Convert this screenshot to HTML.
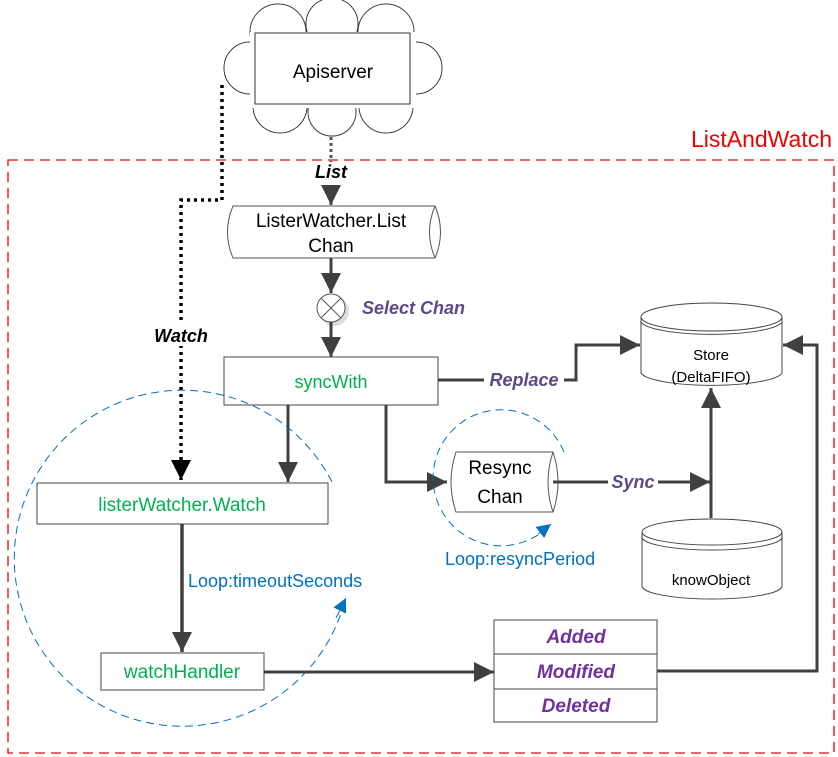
<!DOCTYPE html>
<html><head><meta charset="utf-8"><style>
html,body{margin:0;padding:0;background:#fff;}
svg{display:block;font-family:"Liberation Sans","DejaVu Sans",sans-serif;}
</style></head><body>
<svg width="838" height="757" viewBox="0 0 838 757" xmlns="http://www.w3.org/2000/svg">
<defs>
<marker id="ah" viewBox="0 0 10 10" refX="10" refY="5" markerWidth="20" markerHeight="20" markerUnits="userSpaceOnUse" orient="auto"><path d="M0,0 L10,5 L0,10 Z" fill="#404040"/></marker>
<marker id="ahk" viewBox="0 0 10 10" refX="10" refY="5" markerWidth="20" markerHeight="20" markerUnits="userSpaceOnUse" orient="auto"><path d="M0,0 L10,5 L0,10 Z" fill="#000"/></marker>
<marker id="ahb" viewBox="0 0 10 10" refX="10" refY="5" markerWidth="14" markerHeight="14" markerUnits="userSpaceOnUse" orient="auto"><path d="M0,0 L10,5 L0,10 Z" fill="#0070c0"/></marker>
</defs>

<!-- red container -->
<rect x="8" y="160" width="826" height="593" fill="none" stroke="#e00" stroke-width="1.3" stroke-dasharray="10,6"/>
<text x="832" y="147" text-anchor="end" font-size="23" fill="#e00">ListAndWatch</text>

<!-- cloud: stroke pass -->
<g fill="none" stroke="#333" stroke-width="1">
<circle cx="250" cy="68" r="26"/><circle cx="416" cy="68" r="26"/>
<circle cx="278" cy="32" r="28"/><circle cx="332" cy="24" r="26"/><circle cx="386" cy="32" r="28"/>
<circle cx="280" cy="106" r="27"/><circle cx="332" cy="112" r="24"/><circle cx="386" cy="106" r="27"/>
</g>
<!-- cloud: fill pass -->
<g fill="#fff" stroke="none">
<circle cx="250" cy="68" r="25.5"/><circle cx="416" cy="68" r="25.5"/>
<circle cx="278" cy="32" r="27.5"/><circle cx="332" cy="24" r="25.5"/><circle cx="386" cy="32" r="27.5"/>
<circle cx="280" cy="106" r="26.5"/><circle cx="332" cy="112" r="23.5"/><circle cx="386" cy="106" r="26.5"/>
<rect x="250" y="32" width="166" height="76"/>
</g>
<rect x="255" y="33" width="155" height="71" fill="#fff" stroke="#333" stroke-width="1"/>
<text x="333" y="78" text-anchor="middle" font-size="19" fill="#000">Apiserver</text>

<!-- List -->
<line x1="331" y1="137" x2="331" y2="162" stroke="#555" stroke-width="3" stroke-dasharray="3,3"/>
<text x="331" y="178" text-anchor="middle" font-size="18" font-weight="bold" font-style="italic">List</text>
<line x1="331" y1="185" x2="331" y2="205" stroke="#404040" stroke-width="3" marker-end="url(#ah)"/>

<!-- ListerWatcher.List Chan -->
<path d="M233,206 L435,206 Q446,232 435,258 L233,258 Q222,232 233,206 Z" fill="#fff" stroke="#555"/>
<path d="M435,206 Q424,232 435,258" fill="none" stroke="#555"/>
<text x="331" y="227" text-anchor="middle" font-size="19">ListerWatcher.List</text>
<text x="331" y="252" text-anchor="middle" font-size="19">Chan</text>

<line x1="331" y1="258" x2="331" y2="293" stroke="#404040" stroke-width="3" marker-end="url(#ah)"/>
<circle cx="334" cy="311" r="15" fill="#ddd"/>
<circle cx="331" cy="308" r="14" fill="#fff" stroke="#555"/>
<line x1="321" y1="298" x2="341" y2="318" stroke="#555"/><line x1="341" y1="298" x2="321" y2="318" stroke="#555"/>
<text x="362" y="314" font-size="18" font-weight="bold" font-style="italic" fill="#5b4a8a">Select Chan</text>
<line x1="331" y1="322" x2="331" y2="357" stroke="#404040" stroke-width="3" marker-end="url(#ah)"/>

<!-- syncWith -->
<rect x="224" y="357" width="214" height="48" fill="#fff" stroke="#444"/>
<text x="331" y="388" text-anchor="middle" font-size="18" fill="#00b050">syncWith</text>

<!-- Watch dotted -->
<polyline points="222,85 222,200 181,200 181,480" fill="none" stroke="#000" stroke-width="3.5" stroke-dasharray="3,4" marker-end="url(#ahk)"/>
<rect x="145" y="324" width="72" height="22" fill="#fff"/>
<text x="181" y="342" text-anchor="middle" font-size="18" font-weight="bold" font-style="italic">Watch</text>

<line x1="288" y1="405" x2="288" y2="482" stroke="#404040" stroke-width="3" marker-end="url(#ah)"/>

<!-- listerWatcher.Watch -->
<rect x="37" y="483" width="291" height="41" fill="#fff" stroke="#444"/>
<text x="182" y="511" text-anchor="middle" font-size="19" fill="#00b050">listerWatcher.Watch</text>

<line x1="182" y1="524" x2="182" y2="652" stroke="#404040" stroke-width="3.5" marker-end="url(#ah)"/>

<!-- watchHandler -->
<rect x="101" y="653" width="163" height="37" fill="#fff" stroke="#444"/>
<text x="182" y="678" text-anchor="middle" font-size="19" fill="#00b050">watchHandler</text>

<!-- big blue loop -->
<path d="M332,482 A168 168 0 1 0 345,600" fill="none" stroke="#0070c0" stroke-width="1" stroke-dasharray="8,5"/>
<line x1="336" y1="618" x2="346" y2="598" stroke="#0070c0" marker-end="url(#ahb)"/>
<text x="188" y="587" font-size="18" fill="#0070c0">Loop:timeoutSeconds</text>

<line x1="264" y1="672" x2="494" y2="672" stroke="#404040" stroke-width="3" marker-end="url(#ah)"/>

<!-- Added/Modified/Deleted -->
<rect x="494" y="620" width="163" height="102" fill="#fff" stroke="#444"/>
<line x1="494" y1="654" x2="657" y2="654" stroke="#444"/>
<line x1="494" y1="689" x2="657" y2="689" stroke="#444"/>
<g font-size="19" font-weight="bold" font-style="italic" fill="#7030a0" text-anchor="middle">
<text x="576" y="643">Added</text><text x="576" y="678">Modified</text><text x="576" y="712">Deleted</text>
</g>
<polyline points="657,671 817,671 817,345 783,345" fill="none" stroke="#404040" stroke-width="3" marker-end="url(#ah)"/>

<!-- Replace -->
<polyline points="438,380 576,380 576,345 640,345" fill="none" stroke="#404040" stroke-width="3" marker-end="url(#ah)"/>
<rect x="484" y="368" width="80" height="24" fill="#fff"/>
<text x="524" y="386" text-anchor="middle" font-size="18" font-weight="bold" font-style="italic" fill="#5b4a8a">Replace</text>

<!-- Store -->
<path d="M641,317 L641,373 A71 14 0 0 0 782,373 L782,317" fill="#fff" stroke="#444"/>
<ellipse cx="711.5" cy="317" rx="70.5" ry="14" fill="#fff" stroke="#444"/>
<path d="M641,322 A71 14 0 0 0 782,322" fill="none" stroke="#444"/>
<text x="711" y="360" text-anchor="middle" font-size="15">Store</text>
<text x="711" y="382" text-anchor="middle" font-size="15">(DeltaFIFO)</text>

<!-- syncWith -> Resync -->
<polyline points="386,405 386,482 447,482" fill="none" stroke="#404040" stroke-width="3" marker-end="url(#ah)"/>

<!-- Resync Chan -->
<path d="M456,452 L553,452 Q563,482 553,512 L456,512 Q446,482 456,452 Z" fill="#fff" stroke="#555"/>
<path d="M553,452 Q543,482 553,512" fill="none" stroke="#555"/>
<text x="500" y="474" text-anchor="middle" font-size="19">Resync</text>
<text x="500" y="503" text-anchor="middle" font-size="19">Chan</text>

<!-- small blue loop -->
<path d="M564,452 A68 68 0 1 0 548,527" fill="none" stroke="#0070c0" stroke-width="1" stroke-dasharray="8,5"/>
<line x1="538" y1="534" x2="551" y2="524" stroke="#0070c0" marker-end="url(#ahb)"/>
<text x="445" y="565" font-size="18" fill="#0070c0">Loop:resyncPeriod</text>

<!-- Sync -->
<line x1="553" y1="482" x2="710" y2="482" stroke="#404040" stroke-width="3" marker-end="url(#ah)"/>
<rect x="608" y="470" width="50" height="24" fill="#fff"/>
<text x="633" y="488" text-anchor="middle" font-size="18" font-weight="bold" font-style="italic" fill="#5b4a8a">Sync</text>
<line x1="711" y1="518" x2="711" y2="388" stroke="#404040" stroke-width="3" marker-end="url(#ah)"/>

<!-- knowObject -->
<path d="M642,532 L642,586 A70 13 0 0 0 782,586 L782,532" fill="#fff" stroke="#444"/>
<ellipse cx="712" cy="532" rx="70" ry="13" fill="#fff" stroke="#444"/>
<path d="M642,537 A70 13 0 0 0 782,537" fill="none" stroke="#444"/>
<text x="711" y="585" text-anchor="middle" font-size="15">knowObject</text>
</svg>
</body></html>
